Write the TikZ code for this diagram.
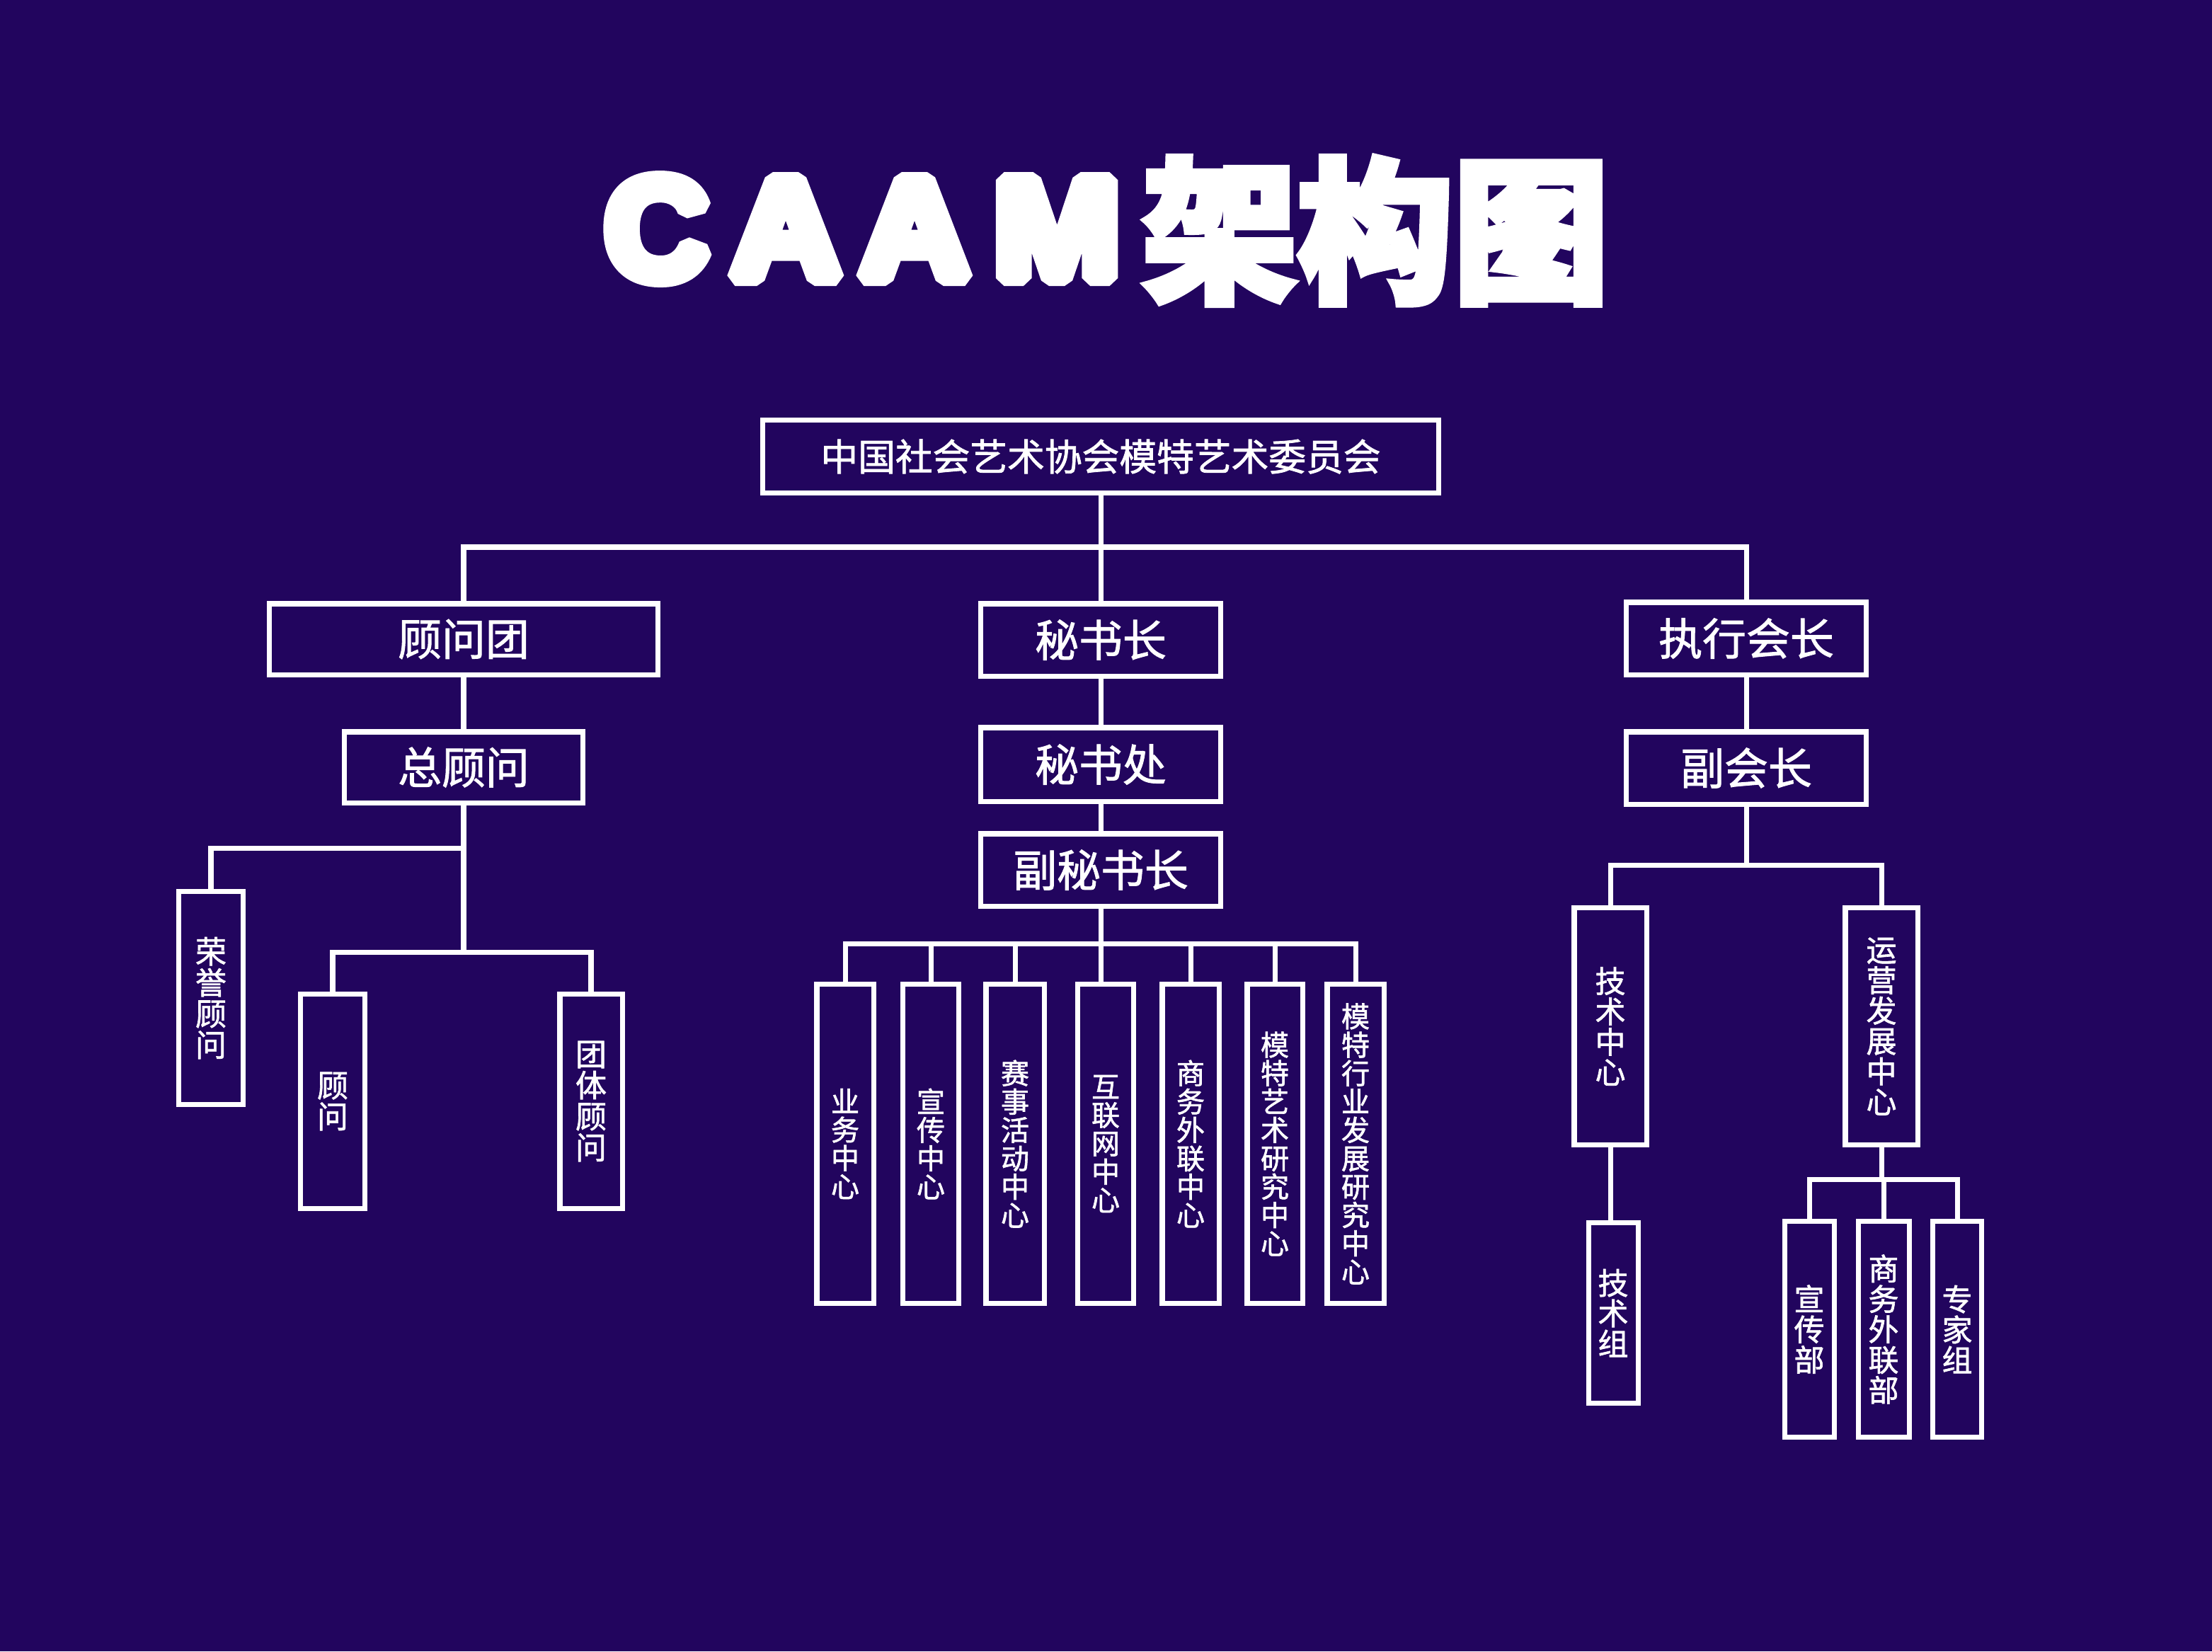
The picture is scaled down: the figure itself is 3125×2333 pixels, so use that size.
\documentclass[tikz,border=0pt]{standalone}
\usepackage{fontspec}
\setmainfont{Liberation Sans}
\newfontfamily\cjk{Noto Sans CJK SC}[FakeBold=1.5]
\newfontfamily\titlefont{Liberation Sans}[BoldFeatures={FakeBold=11}]
\newfontfamily\cjktitle{Noto Sans CJK SC}[BoldFeatures={FakeBold=4}]
\definecolor{bg}{RGB}{34,5,94}
\tikzset{
  box/.style={draw=white, line width=2pt, inner sep=0pt, text=white,
    font=\cjk\fontsize{17.6pt}{17.6pt}\selectfont},
  topbox/.style={box, font=\cjk\fontsize{15pt}{15pt}\selectfont},
  vboxL/.style={box, align=center, font=\cjk\fontsize{12.5pt}{12.5pt}\selectfont},
  vboxM/.style={box, align=center, font=\cjk\fontsize{11.4pt}{11.4pt}\selectfont},
  vboxR/.style={box, align=center, font=\cjk\fontsize{12.2pt}{12.2pt}\selectfont},
  link/.style={draw=white, line width=2pt},
  titletext/.style={text=white, inner sep=0pt},
  latintitle/.style={titletext, anchor=base, line join=bevel, yscale=1.06,
    font=\titlefont\bfseries\fontsize{54.1pt}{54.1pt}\selectfont}
}
\begin{document}
\begin{tikzpicture}[x=0.01cm,y=-0.01cm]
\fill[bg] (0,0) rectangle (3125,2333);
\useasboundingbox (0,0) rectangle (3125,2333);

% title
\node[latintitle, xscale=1.06] (tC) at (928,393) {\pgfsetbeveljoin C};
\node[latintitle, xscale=1.12] (tA1) at (1110,393) {\pgfsetbeveljoin A};
\node[latintitle, xscale=1.12] (tA2) at (1292,393) {\pgfsetbeveljoin A};
\node[latintitle, xscale=1.12] (tM) at (1493,393) {\pgfsetbeveljoin M};
\node[titletext, font=\cjktitle\bfseries\fontsize{62.6pt}{62.6pt}\selectfont] (tB) at (1943,326) {架构图};

% top
\node[topbox, minimum width=9.55cm, minimum height=1.02cm] (top) at (1555,645) {中国社会艺术协会模特艺术委员会};

% left column
\node[box, minimum width=5.48cm, minimum height=1.0cm] (gwt) at (655,903) {顾问团};
\node[box, minimum width=3.37cm, minimum height=1.0cm] (zgw) at (655,1084) {总顾问};
\node[vboxL, minimum width=0.90cm, minimum height=3.01cm] (rygw) at (298,1410) {荣\\誉\\顾\\问};
\node[vboxL, minimum width=0.91cm, minimum height=3.03cm] (gw) at (470,1556) {顾\\问};
\node[vboxL, minimum width=0.88cm, minimum height=3.03cm] (ttgw) at (835,1556) {团\\体\\顾\\问};

% middle column
\node[box, minimum width=3.39cm, minimum height=1.02cm] (msz) at (1555,904) {秘书长};
\node[box, minimum width=3.39cm, minimum height=1.04cm] (msc) at (1555,1080) {秘书处};
\node[box, minimum width=3.39cm, minimum height=1.02cm] (fmsz) at (1555,1229) {副秘书长};

\node[vboxM, minimum width=0.80cm, minimum height=4.51cm] (m1) at (1194,1616) {业\\务\\中\\心};
\node[vboxM, minimum width=0.79cm, minimum height=4.51cm] (m2) at (1315,1616) {宣\\传\\中\\心};
\node[vboxM, minimum width=0.82cm, minimum height=4.51cm] (m3) at (1434,1616) {赛\\事\\活\\动\\中\\心};
\node[vboxM, minimum width=0.79cm, minimum height=4.51cm] (m4) at (1562,1616) {互\\联\\网\\中\\心};
\node[vboxM, minimum width=0.80cm, minimum height=4.51cm] (m5) at (1682,1616) {商\\务\\外\\联\\中\\心};
\node[vboxM, minimum width=0.78cm, minimum height=4.51cm] (m6) at (1801,1616) {模\\特\\艺\\术\\研\\究\\中\\心};
\node[vboxM, minimum width=0.80cm, minimum height=4.51cm] (m7) at (1915,1616) {模\\特\\行\\业\\发\\展\\研\\究\\中\\心};

% right column
\node[box, minimum width=3.39cm, minimum height=1.02cm] (zxhz) at (2467,902) {执行会长};
\node[box, minimum width=3.39cm, minimum height=1.02cm] (fhz) at (2467,1085) {副会长};
\node[vboxR, minimum width=1.02cm, minimum height=3.35cm] (jszx) at (2275,1450) {技\\术\\中\\心};
\node[vboxR, minimum width=1.02cm, minimum height=3.35cm] (yyfz) at (2658,1450) {运\\营\\发\\展\\中\\心};
\node[vboxR, minimum width=0.70cm, minimum height=2.55cm] (jsz) at (2279,1855) {技\\术\\组};
\node[vboxR, minimum width=0.70cm, minimum height=3.05cm] (xcb) at (2556,1878) {宣\\传\\部};
\node[vboxR, minimum width=0.72cm, minimum height=3.05cm] (swwlb) at (2661,1878) {商\\务\\外\\联\\部};
\node[vboxR, minimum width=0.69cm, minimum height=3.05cm] (zjz) at (2765,1878) {专\\家\\组};

% bus coordinates
\coordinate (busT) at (1555,773);
\coordinate (lb1) at (655,1198);
\coordinate (lb2) at (655,1345);
\coordinate (mb) at (1555,1333);
\coordinate (rb) at (2467,1222);
\coordinate (rb2) at (2658,1666);

% connectors
\draw[link] (top.south) -- (top.south |- msz.north);
\draw[link] (gwt.north) -- (gwt.north |- busT) -- (zxhz.north |- busT) -- (zxhz.north);

\draw[link] (gwt.south) -- (gwt.south |- zgw.north);
\draw[link] (zgw.south) -- (lb2);
\draw[link] (lb1) -| (rygw.north);
\draw[link] (gw.north) |- (lb2) -| (ttgw.north);

\draw[link] (msz.south) -- (msc.north);
\draw[link] (msc.south) -- (fmsz.north);
\draw[link] (fmsz.south) -- (fmsz.south |- m4.north);
\draw[link] (m1.north) |- (m7.north |- mb) -- (m7.north);
\foreach \m in {m2,m3,m5,m6} {\draw[link] (\m.north) -- (\m.north |- mb);}

\draw[link] (zxhz.south) -- (fhz.north);
\draw[link] (fhz.south) -- (rb);
\draw[link] (jszx.north) |- (rb) -| (yyfz.north);
\draw[link] (jszx.south) -- (jszx.south |- jsz.north);
\draw[link] (yyfz.south) -- (rb2);
\draw[link] (xcb.north) |- (rb2) -| (zjz.north);
\draw[link] (swwlb.north) -- (swwlb.north |- rb2);
\end{tikzpicture}
\end{document}
